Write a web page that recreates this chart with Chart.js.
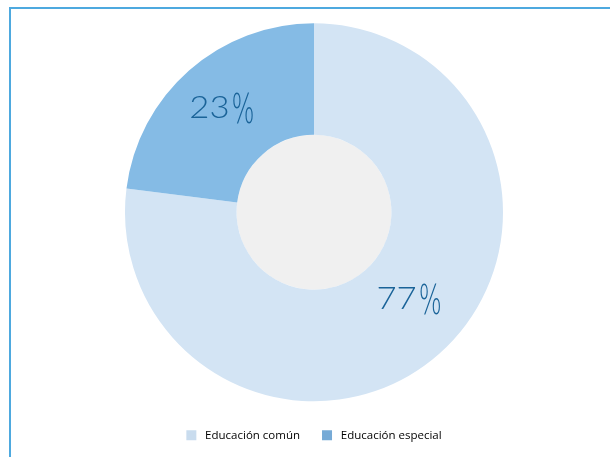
<!DOCTYPE html>
<html>
<head>
<meta charset="utf-8">
<script src="https://cdn.jsdelivr.net/npm/chart.js@4"></script>
<style>
  html, body { margin: 0; padding: 0; background: #fff; }
  #wrap { position: relative; width: 610px; height: 457px; }
  #frame { position: absolute; left: 9px; top: 7px; right: 0; bottom: 0;
           border-top: 2px solid #4ea9df; border-left: 2px solid #4ea9df; }
  canvas { position: absolute; left: 0; top: 0; }
</style>
</head>
<body>
<div id="wrap">
  <div id="frame"></div>
  <canvas id="Grafico" width="610" height="457"></canvas>
</div>
<script>
// categorías y valores (%)
var categorias = ['Educación común', 'Educación especial'];
var valores = [77, 23];
var colores = ['#d3e4f4', '#85bbe5'];
var coloresLeyenda = ['#c9dcee', '#76aad6'];
// pequeño ajuste de cada etiqueta respecto al centro del arco
var ajuste = [[7, -3], [-4, 6]];

// circulo gris del centro + etiquetas de porcentaje
var etiquetas = {
  id: 'etiquetas',
  beforeDatasetsDraw: function (chart) {
    var arc = chart.getDatasetMeta(0).data[0];
    var ctx = chart.ctx;
    ctx.save();
    ctx.fillStyle = '#f0f0f0';
    ctx.beginPath();
    ctx.arc(arc.x, arc.y, arc.innerRadius, 0, Math.PI * 2);
    ctx.fill();
    ctx.restore();
  },
  afterDatasetsDraw: function (chart) {
    var ctx = chart.ctx;
    var meta = chart.getDatasetMeta(0);
    meta.data.forEach(function (arc, i) {
      var p = arc.getCenterPoint();
      var num = String(valores[i]);
      ctx.save();
      ctx.fillStyle = '#1a6398';
      ctx.textBaseline = 'alphabetic';
      ctx.font = '300 31px Lato';
      var w1 = ctx.measureText(num).width * 1.12;
      var w2 = 23;
      var x = p.x + ajuste[i][0] - (w1 + w2 + 2) / 2;
      var y = p.y + ajuste[i][1];
      ctx.save();
      ctx.translate(x, y);
      ctx.scale(1.12, 1);
      ctx.fillText(num, 0, 0);
      ctx.restore();
      ctx.font = '200 34px "DejaVu Sans"';
      var wp = ctx.measureText('%').width;
      ctx.save();
      ctx.translate(x + w1 + 2, y + 5);
      ctx.scale(w2 / wp, 1.18);
      ctx.fillText('%', 0, 0);
      ctx.restore();
      ctx.restore();
    });
  }
};

var grafico = new Chart(document.getElementById('Grafico').getContext('2d'), {
  type: 'doughnut',
  data: {
    labels: categorias,
    datasets: [{
      data: valores,
      backgroundColor: colores,
      borderWidth: 0,
      radius: 189
    }]
  },
  options: {
    responsive: false,
    animation: false,
    cutout: 80,
    layout: { padding: { top: 17, left: 18, right: 0, bottom: 6 } },
    plugins: {
      tooltip: { enabled: false },
      legend: {
        position: 'bottom',
        labels: {
          boxWidth: 10,
          boxHeight: 10,
          padding: 22,
          color: '#555',
          font: { family: '"Open Sans"', size: 11.5 },
          generateLabels: function (chart) {
            return categorias.map(function (c, i) {
              return { text: ' ' + c, fillStyle: coloresLeyenda[i], strokeStyle: coloresLeyenda[i], lineWidth: 0, index: i };
            });
          }
        }
      }
    }
  },
  plugins: [etiquetas]
});
</script>
</body>
</html>
